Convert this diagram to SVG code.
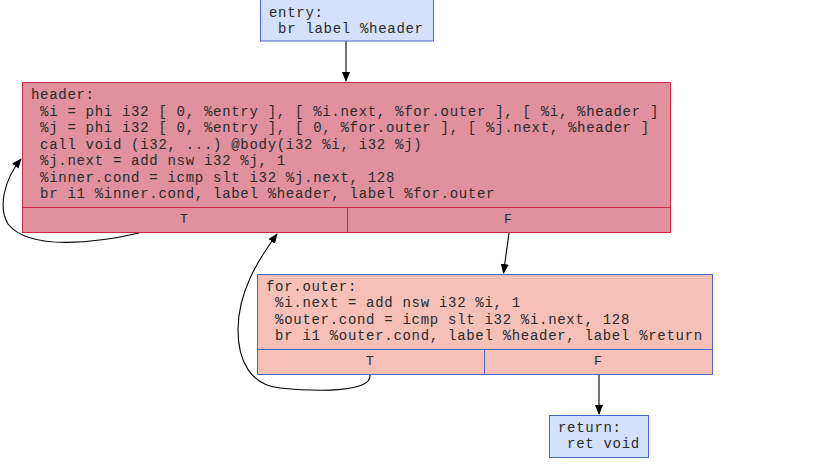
<svg xmlns="http://www.w3.org/2000/svg" width="834" height="472" viewBox="0 0 834 472">
<defs>
<style>
text{font-family:"Liberation Mono","Courier New",monospace;font-size:14px;letter-spacing:0.7px;fill:#2a2a2a}
.c{text-anchor:middle;font-size:13px;letter-spacing:0}
.blue{fill:#d3e1fa;stroke:#4a68c8;stroke-width:1}
.red{fill:#e0919d;stroke:#cc2844;stroke-width:1}
.salmon{fill:#f5c0b8;stroke:#4a68c8;stroke-width:1}
.e{fill:none;stroke:#000;stroke-width:1.1}
</style>
<marker id="ah" markerWidth="10" markerHeight="10" refX="9" refY="5" orient="auto" markerUnits="userSpaceOnUse" viewBox="0 0 10 10">
<path d="M0,1 L10,5 L0,9 Z" fill="#000"/>
</marker>
</defs>
<g id="connectors">
<path class="e" d="M346,41 L346,81" marker-end="url(#ah)"/>
<path class="e" d="M509,233 L503.5,273" marker-end="url(#ah)"/>
<path class="e" d="M139,233 C100,242 30,252 8,224 C-2,207 4,180 21,159" marker-end="url(#ah)"/>
<path class="e" d="M370,375 C372,392 320,392 280,388 C250,385 238,360 238,330 C238,292 258,260 277,234" marker-end="url(#ah)"/>
<path class="e" d="M599,375 L599,414" marker-end="url(#ah)"/>
</g>
<g id="entry">
<rect class="blue" x="260.5" y="-5" width="173" height="46"/>
<text x="269" y="17">entry:</text>
<text x="269" y="33" xml:space="preserve"> br label %header</text>
</g>
<g id="header">
<rect class="red" x="22.5" y="82.5" width="648" height="150"/>
<line class="red" x1="22.5" y1="207.5" x2="670.5" y2="207.5"/>
<line class="red" x1="347.5" y1="207.5" x2="347.5" y2="232.5"/>
<text x="31" y="99">header:</text>
<text x="31" y="116" xml:space="preserve"> %i = phi i32 [ 0, %entry ], [ %i.next, %for.outer ], [ %i, %header ]</text>
<text x="31" y="132" xml:space="preserve"> %j = phi i32 [ 0, %entry ], [ 0, %for.outer ], [ %j.next, %header ]</text>
<text x="31" y="149" xml:space="preserve"> call void (i32, ...) @body(i32 %i, i32 %j)</text>
<text x="31" y="165" xml:space="preserve"> %j.next = add nsw i32 %j, 1</text>
<text x="31" y="182" xml:space="preserve"> %inner.cond = icmp slt i32 %j.next, 128</text>
<text x="31" y="198" xml:space="preserve"> br i1 %inner.cond, label %header, label %for.outer</text>
<text class="c" x="184" y="223">T</text>
<text class="c" x="508" y="223">F</text>
</g>
<g id="for.outer">
<rect class="salmon" x="257.5" y="274.5" width="455" height="100"/>
<line class="salmon" x1="257.5" y1="349.5" x2="712.5" y2="349.5"/>
<line class="salmon" x1="484.5" y1="349.5" x2="484.5" y2="374.5"/>
<text x="266" y="291">for.outer:</text>
<text x="266" y="307" xml:space="preserve"> %i.next = add nsw i32 %i, 1</text>
<text x="266" y="324" xml:space="preserve"> %outer.cond = icmp slt i32 %i.next, 128</text>
<text x="266" y="340" xml:space="preserve"> br i1 %outer.cond, label %header, label %return</text>
<text class="c" x="370" y="365">T</text>
<text class="c" x="598" y="365">F</text>
</g>
<g id="return">
<rect class="blue" x="549.5" y="415.5" width="99" height="42"/>
<text x="558" y="432">return:</text>
<text x="558" y="448" xml:space="preserve"> ret void</text>
</g>
</svg>
